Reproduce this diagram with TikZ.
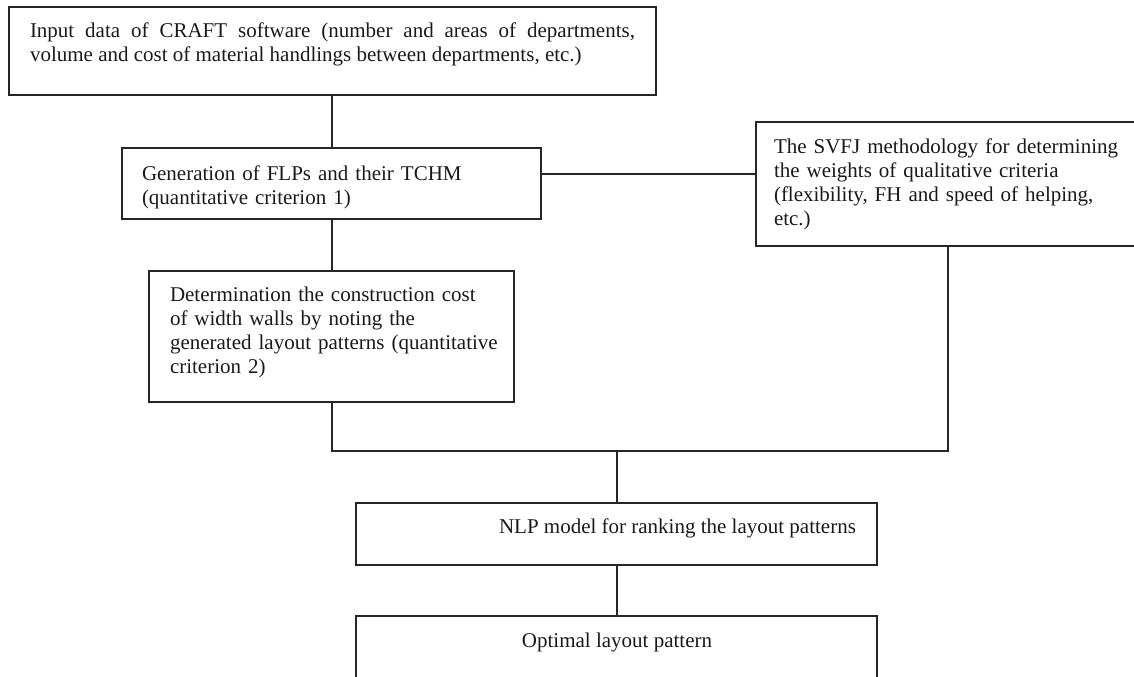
\documentclass[tikz,border=0pt]{standalone}
\usepackage{fontspec}
\setmainfont{Liberation Serif}
\usetikzlibrary{fit,calc}
\begin{document}
\begin{tikzpicture}[x=0.5pt,y=-0.5pt,
  box/.style={draw=black!85,line width=0.9pt,inner sep=0pt,outer sep=0pt,rectangle},
  txt/.style={inner sep=0pt,outer sep=0pt,text=black!90,font=\fontsize{10.5}{12.15}\selectfont},
  link/.style={draw=black!85,line width=0.9pt}]
\useasboundingbox (0,0) rectangle (1134,676);
\clip (0,0) rectangle (1134,676);
% boxes
\node[box,fit={(9,7) (656,95)}] (b1) {};
\node[box,fit={(122,148) (541,219)}] (b2) {};
\node[box,fit={(149,271) (514,402)}] (b3) {};
\node[box,fit={(756,122) (1150,246)}] (b4) {};
\node[box,fit={(356,503) (877,565)}] (b5) {};
\node[box,fit={(356,616) (877,700)}] (b6) {};
% texts
\node[txt,anchor=base west,text width=302.5pt,align=justify] (t1) at (30,37)
  {Input data of CRAFT software (number and areas of departments,\linebreak volume and cost of material handlings between departments, etc.)};
\node[txt,anchor=base west,text width=200pt,align=left] (t2) at (142,180)
  {Generation of FLPs and their TCHM\\(quantitative criterion 1)};
\node[txt,anchor=base west,text width=175pt,align=left] (t3) at (170,301)
  {Determination the construction cost\\of width walls by noting the\\generated layout patterns (quantitative\\criterion 2)};
\node[txt,anchor=base west,text width=175pt,align=left] (t4) at (774,153)
  {The SVFJ methodology for determining\\the weights of qualitative criteria\\(flexibility, FH and speed of helping,\\etc.)};
\node[txt,anchor=base west] (t5) at (499,533) {NLP model for ranking the layout patterns};
\node[txt,anchor=base] (t6) at (617,647) {Optimal layout pattern};
% connectors
\coordinate (hy) at (0,174);
\coordinate (jl) at (332,451);
\coordinate (jm) at (617,451);
\coordinate (jr) at (948,451);
\draw[link] (b1.south -| jl) -- (jl |- b2.north);
\draw[link] (b2.south -| jl) -- (jl |- b3.north);
\draw[link] (b2.east |- hy) -- (b4.west |- hy);
\draw[link] (b3.south -| jl) -- (jl) -- (jr) -- (jr |- b4.south);
\draw[link] (jm) -- (jm |- b5.north);
\draw[link] (b5.south -| jm) -- (jm |- b6.north);
\end{tikzpicture}
\end{document}
